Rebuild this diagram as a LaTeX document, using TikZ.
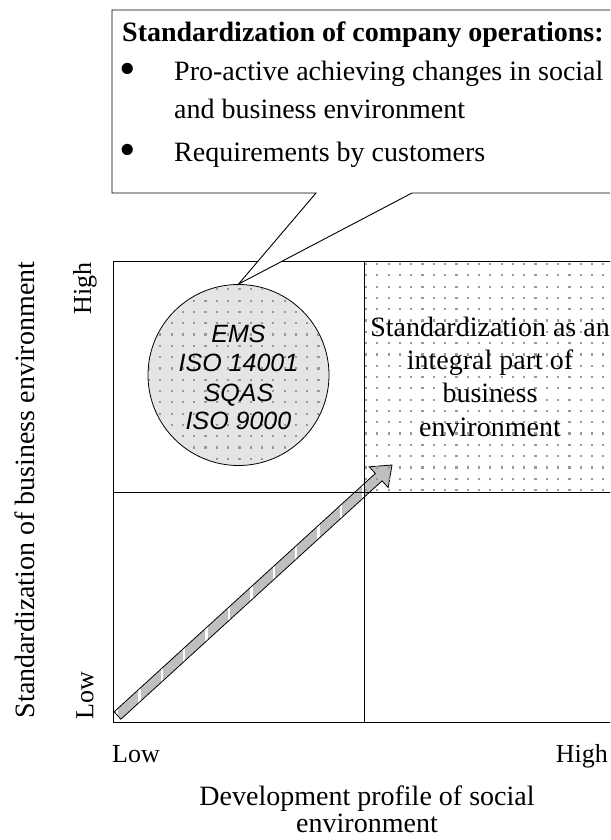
\documentclass[tikz,border=0pt]{standalone}
\usepackage{fontspec}
\setmainfont{Liberation Serif}
\newfontfamily\arialf{Liberation Sans}
\usetikzlibrary{calc}
\begin{document}
\begin{tikzpicture}[x=1pt,y=-1pt,
  txt/.style={inner sep=0pt, font=\fontsize{28}{33}\selectfont},
  boldtxt/.style={inner sep=0pt, font=\bfseries\fontsize{28}{33}\selectfont},
  bullettxt/.style={inner sep=0pt, font=\fontsize{47}{50}\selectfont},
  tick/.style={inner sep=0pt, font=\fontsize{26}{30}\selectfont},
  stdtxt/.style={inner sep=0pt, font=\arialf\itshape\fontsize{25}{29}\selectfont},
  frame/.style={draw=black, line width=1pt},
  dotsq/.style={fill=gray!80},
]
\useasboundingbox (0,0) rectangle (610,840);
\clip (0,0) rectangle (610,840);

% arrow
\coordinate (T) at (117.5,715.5);
\coordinate (P) at (392,465);
\coordinate (B) at ($(P)!18pt!(T)$);
\coordinate (a1) at ($(T)!5pt!90:(P)$);
\coordinate (a2) at ($(B)!5pt!90:(P)$);
\coordinate (a3) at ($(B)!14pt!90:(P)$);
\coordinate (a5) at ($(B)!14pt!-90:(P)$);
\coordinate (a6) at ($(B)!5pt!-90:(P)$);
\coordinate (a7) at ($(T)!5pt!-90:(P)$);
\fill[gray!50] (a1) -- (a2) -- (a3) -- (P) -- (a5) -- (a6) -- (a7) -- cycle;
\begin{scope}
  \clip (a1) -- (a2) -- (a6) -- (a7) -- cycle;
  \foreach \k in {0,...,11}
    \draw[white, line width=2.5pt] ({117+22.4*\k},400) -- ++(0,340);
\end{scope}
\draw[black, line width=0.8pt] (a1) -- (a2) -- (a3) -- (P) -- (a5) -- (a6) -- (a7) -- cycle;

% dotted quadrant
\begin{scope}
  \clip (364,261) rectangle (620,492);
  \foreach \i in {0,...,22}{\foreach \j in {0,...,20}{
    \fill[dotsq] ({366+11.3*\i-1.1},{264+11.3*\j-1.1}) rectangle ++(2.2,2.2);}}
\end{scope}

% grid
\draw[frame] (113,261) rectangle (620,722);
\draw[frame] (364,261) -- (364,722);
\draw[frame] (113,492) -- (620,492);

% circle
\node[circle, draw=black, line width=0.8pt, fill=gray!20, minimum size=181pt, inner sep=0pt] (circ) at (238.5,375) {};
\begin{scope}
  \clip (238.5,375) circle (89.5);
  \foreach \i in {0,...,16}{\foreach \j in {0,...,16}{
    \fill[dotsq] ({149+11.3*\i-1.1},{289.3+11.3*\j-1.1}) rectangle ++(2.2,2.2);}}
\end{scope}
\node[stdtxt, anchor=base] (c1) at (238.5,342) {EMS};
\node[stdtxt, anchor=base] (c2) at (238.5,371) {ISO 14001};
\node[stdtxt, anchor=base] (c3) at (238.5,401) {SQAS};
\node[stdtxt, anchor=base] (c4) at (238.5,429) {ISO 9000};

% callout
\draw[black, line width=0.9pt, fill=white] (620,10) -- (112,10) -- (112,193) -- (316,193) -- (circ.north) -- (412,193) -- (620,193);
\node[boldtxt, anchor=base west] (title) at (122,42) {Standardization of company operations:};
\node[bullettxt, anchor=base] (b1) at (128,85) {•};
\node[txt, anchor=base west] (l1) at (174,81) {Pro-active achieving changes in social};
\node[txt, anchor=base west] (l2) at (174,119) {and business environment};
\node[bullettxt, anchor=base] (b2) at (128,165) {•};
\node[txt, anchor=base west] (l3) at (174,161) {Requirements by customers};

% quadrant text
\node[txt, anchor=base] (q1) at (490,336) {Standardization as an};
\node[txt, anchor=base] (q2) at (490,369) {integral part of};
\node[txt, anchor=base] (q3) at (490,402) {business};
\node[txt, anchor=base] (q4) at (490,436) {environment};

% axes
\node[txt, rotate=90] (ytitle) at (25,490) {Standardization of business environment};
\node[tick, rotate=90, anchor=east] (yhigh) at (85,262) {High};
\node[tick, rotate=90, anchor=west] (ylow) at (85,720) {Low};
\node[tick, anchor=base west] (xlow) at (112,762) {Low};
\node[tick, anchor=base east] (xhigh) at (608,762) {High};
\node[txt, anchor=base] (xt1) at (367,805) {Development profile of social};
\node[txt, anchor=base] (xt2) at (367,832) {environment};
\end{tikzpicture}
\end{document}
